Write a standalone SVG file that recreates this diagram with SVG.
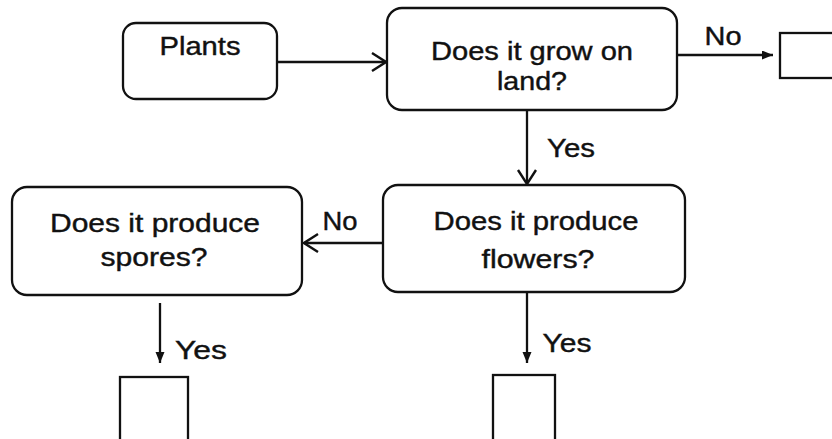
<svg xmlns="http://www.w3.org/2000/svg" width="832" height="439" viewBox="0 0 832 439">
<defs>
<style>
.box{fill:none;stroke:#111;stroke-width:2.3}
.t{font-family:"Liberation Sans",Arial,sans-serif;font-size:25px;fill:#111;stroke:#111;stroke-width:0.4;text-anchor:middle}
.c{fill:none;stroke:#111;stroke-width:2.3}
</style>
<marker id="open" markerUnits="userSpaceOnUse" markerWidth="17" markerHeight="21" refX="15" refY="10" orient="auto">
<path d="M1,1 L15,10 L1,19" fill="none" stroke="#111" stroke-width="2.4"/>
</marker>
<marker id="fill" markerUnits="userSpaceOnUse" markerWidth="12" markerHeight="10" refX="11" refY="4.5" orient="auto">
<path d="M0,0 L11,4.5 L0,9 Z" fill="#111"/>
</marker>
</defs>
<rect width="832" height="439" fill="#fff"/>
<g id="connectors">
<line class="c" x1="277" y1="62" x2="386" y2="62" marker-end="url(#open)"/>
<line class="c" x1="677" y1="55" x2="773" y2="55" marker-end="url(#fill)"/>
<line class="c" x1="527" y1="110" x2="527" y2="184" marker-end="url(#open)"/>
<line class="c" x1="383" y1="243" x2="304" y2="243" marker-end="url(#open)"/>
<line class="c" x1="527" y1="292" x2="527" y2="363" marker-end="url(#fill)"/>
<line class="c" x1="160" y1="303" x2="160" y2="363" marker-end="url(#fill)"/>
<text class="t" x="723" y="45" textLength="37" lengthAdjust="spacingAndGlyphs">No</text>
<text class="t" x="571" y="157" textLength="48" lengthAdjust="spacingAndGlyphs">Yes</text>
<text class="t" x="340" y="230" textLength="35" lengthAdjust="spacingAndGlyphs">No</text>
<text class="t" x="567" y="352" textLength="49" lengthAdjust="spacingAndGlyphs">Yes</text>
<text class="t" x="201" y="359" textLength="52" lengthAdjust="spacingAndGlyphs">Yes</text>
</g>
<g id="plants">
<rect class="box" x="123" y="23" width="154" height="76" rx="13"/>
<text class="t" x="200" y="55" textLength="81" lengthAdjust="spacingAndGlyphs">Plants</text>
</g>
<g id="land">
<rect class="box" x="387" y="8" width="290" height="102" rx="15"/>
<text class="t" x="532" y="60" textLength="202" lengthAdjust="spacingAndGlyphs">Does it grow on</text>
<text class="t" x="532" y="90" textLength="70" lengthAdjust="spacingAndGlyphs">land?</text>
</g>
<g id="water">
<rect class="box" x="780" y="33" width="80" height="45"/>
</g>
<g id="flowers">
<rect class="box" x="383" y="185" width="302" height="107" rx="15"/>
<text class="t" x="536" y="230" textLength="205" lengthAdjust="spacingAndGlyphs">Does it produce</text>
<text class="t" x="538" y="268" textLength="113" lengthAdjust="spacingAndGlyphs">flowers?</text>
</g>
<g id="spores">
<rect class="box" x="12" y="187" width="290" height="108" rx="15"/>
<text class="t" x="155" y="232" textLength="210" lengthAdjust="spacingAndGlyphs">Does it produce</text>
<text class="t" x="154" y="266" textLength="107" lengthAdjust="spacingAndGlyphs">spores?</text>
</g>
<g id="result-spores">
<rect class="box" x="120" y="377" width="68" height="80"/>
</g>
<g id="result-flowers">
<rect class="box" x="493" y="375" width="62" height="80"/>
</g>
</svg>
